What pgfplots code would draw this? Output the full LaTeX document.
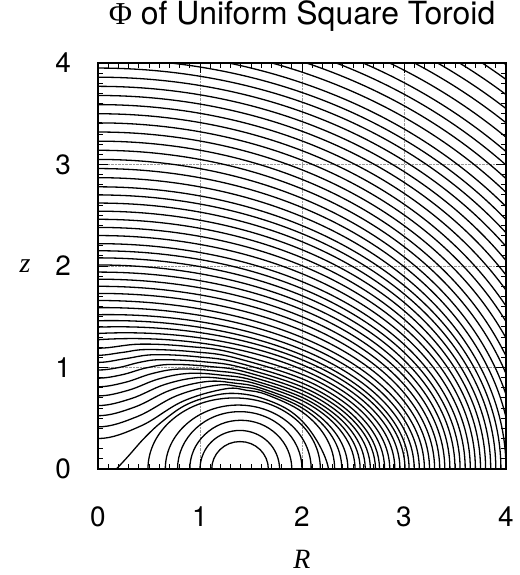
\documentclass[border=0pt]{standalone}
\usepackage{fontspec}
\setmainfont{TeX Gyre Heros}
\newfontfamily\serifit{Liberation Serif}
\usepackage{pgfplots}
\pgfplotsset{compat=1.18}

\newcommand{\tfont}{\fontsize{28}{30}\selectfont}
\newcommand{\titlefont}{\fontsize{32}{34}\selectfont}
\newcommand{\labfont}{\fontsize{28}{30}\selectfont\serifit\itshape}
\tikzset{cl/.style={black, line width=1.3bp, smooth, tension=0.62, mark=none}}

\begin{document}
\begin{tikzpicture}
\useasboundingbox (-98bp,-106bp) rectangle (422bp,469bp);
\begin{axis}[
  scale only axis,
  width=408bp, height=406bp,
  xmin=0, xmax=4, ymin=0, ymax=4,
  xtick={0,1,2,3,4}, ytick={0,1,2,3,4},
  minor tick num=9,
  tick align=inside,
  major tick length=10bp,
  minor tick length=5bp,
  every tick/.style={black, line width=0.9bp},
  axis line style={line width=1.8bp},
  grid=major,
  major grid style={densely dotted, black!40, line width=0.6bp},
  /pgf/number format/assume math mode=true,
  tick label style={font=\tfont, inner sep=0pt},
  xticklabel style={anchor=north, yshift=-38bp},
  yticklabel style={anchor=east, xshift=-27bp},
  title={{\serifit Φ} of Uniform Square Toroid},
  every axis title/.style={at={(axis description cs:0.5,1)}, anchor=base, yshift=38bp, font=\titlefont, inner sep=0pt},
  xlabel={R}, ylabel={z},
  every axis x label/.style={at={(axis description cs:0.5,0)}, anchor=base, yshift=-99bp, font=\labfont, inner sep=0pt},
  every axis y label/.style={at={(axis description cs:0,0.5)}, anchor=center, xshift=-73bp, font=\labfont, inner sep=0pt},
]
% contours around the ring
\addplot[cl] coordinates {(1.136,-0.103) (1.115,0) (1.136,0.103) (1.196,0.191) (1.286,0.250) (1.393,0.27) (1.499,0.250) (1.589,0.191) (1.649,0.103) (1.67,0) (1.649,-0.103)};
\addplot[cl] coordinates {(1.03,-0.146) (1.0,0) (1.03,0.146) (1.114,0.269) (1.241,0.351) (1.39,0.38) (1.539,0.351) (1.666,0.269) (1.75,0.146) (1.78,0) (1.75,-0.146)};
\addplot[cl] coordinates {(0.938,-0.184) (0.90,0) (0.938,0.184) (1.047,0.339) (1.209,0.444) (1.40,0.48) (1.592,0.444) (1.754,0.339) (1.862,0.184) (1.90,0) (1.862,-0.184)};
\addplot[cl] coordinates {(0.826,-0.216) (0.78,0) (0.826,0.216) (0.959,0.400) (1.156,0.522) (1.39,0.565) (1.624,0.522) (1.821,0.400) (1.954,0.216) (2.0,0) (1.954,-0.216)};
\addplot[cl] coordinates {(0.714,-0.241) (0.66,0) (0.714,0.241) (0.870,0.445) (1.101,0.582) (1.375,0.63) (1.649,0.582) (1.881,0.445) (2.036,0.241) (2.09,0) (2.036,-0.241)};
\addplot[cl] coordinates {(0.554,-0.268) (0.49,0) (0.554,0.268) (0.738,0.495) (1.011,0.647) (1.335,0.70) (1.659,0.647) (1.932,0.495) (2.116,0.268) (2.18,0) (2.116,-0.268)};
\addplot[cl] coordinates {(0.08,-0.1) (0.18,0) (0.30,0.13) (0.45,0.30) (0.62,0.46) (0.85,0.625) (1.1,0.715) (1.33,0.745) (1.6,0.70) (1.9,0.56) (2.12,0.32) (2.26,0) (2.21,-0.25)};
% contours crossing the axis with a hump over the ring
\addplot[cl] coordinates {(-0.417,0.4225) (0,0.30) (0.417,0.4225) (0.833,0.6675) (1.25,0.79) (1.459,0.775) (1.660,0.730) (2.006,0.559) (2.239,0.303) (2.32,0) (2.239,-0.303)};
\addplot[cl] coordinates {(-0.387,0.5175) (0,0.415) (0.387,0.5175) (0.773,0.7225) (1.16,0.825) (1.400,0.809) (1.631,0.762) (2.030,0.583) (2.297,0.316) (2.39,0) (2.297,-0.316)};
\addplot[cl] coordinates {(-0.357,0.609) (0,0.525) (0.357,0.609) (0.713,0.778) (1.07,0.862) (1.339,0.846) (1.599,0.796) (2.046,0.609) (2.345,0.330) (2.45,0) (2.345,-0.330)};
\addplot[cl] coordinates {(-0.327,0.694) (0,0.625) (0.327,0.694) (0.653,0.832) (0.98,0.901) (1.280,0.884) (1.570,0.833) (2.069,0.637) (2.403,0.345) (2.52,0) (2.403,-0.345)};
\addplot[cl] coordinates {(-0.297,0.7755) (0,0.72) (0.297,0.7755) (0.593,0.8865) (0.89,0.942) (1.218,0.924) (1.533,0.870) (2.078,0.666) (2.442,0.361) (2.57,0) (2.442,-0.361)};
\addplot[cl] coordinates {(-0.267,0.854) (0,0.81) (0.267,0.854) (0.533,0.941) (0.80,0.985) (1.155,0.966) (1.497,0.910) (2.086,0.696) (2.482,0.377) (2.62,0) (2.482,-0.377)};
\addplot[cl] coordinates {(-0.237,0.929) (0,0.895) (0.237,0.929) (0.473,0.996) (0.71,1.030) (1.092,1.010) (1.461,0.952) (2.096,0.728) (2.521,0.394) (2.67,0) (2.521,-0.394)};
\addplot[cl] coordinates {(-0.207,1.0) (0,0.975) (0.207,1.0) (0.413,1.052) (0.62,1.077) (1.030,1.057) (1.424,0.995) (2.105,0.761) (2.560,0.412) (2.72,0) (2.560,-0.412)};
\addplot[cl] coordinates {(-0.275,1.088) (0,1.05) (0.275,1.088) (0.55,1.126) (0.981,1.105) (1.396,1.040) (2.112,0.796) (2.592,0.431) (2.76,0) (2.592,-0.431)};
\addplot[cl] coordinates {(-0.24,1.1485) (0,1.12) (0.24,1.1485) (0.48,1.177) (0.934,1.155) (1.372,1.088) (2.127,0.832) (2.633,0.451) (2.81,0) (2.633,-0.451)};
\addplot[cl] coordinates {(-0.41,1.23) (0,1.19) (0.41,1.23) (0.888,1.207) (1.348,1.137) (2.142,0.870) (2.674,0.471) (2.86,0) (2.674,-0.471)};
\addplot[cl] coordinates {(-1.477,0.908) (-0.644,1.187) (0.34,1.285) (1.324,1.187) (2.157,0.908) (2.715,0.492) (2.91,0) (2.715,-0.492)};
\addplot[cl] coordinates {(-1.632,0.949) (-0.76,1.240) (0.27,1.342) (1.300,1.240) (2.172,0.949) (2.756,0.514) (2.96,0) (2.756,-0.514)};
\addplot[cl] coordinates {(-1.787,0.991) (-0.876,1.295) (0.2,1.401) (1.276,1.295) (2.187,0.991) (2.796,0.537) (3.01,0) (2.796,-0.537)};
% outer contours
\addplot[cl] coordinates {(-1.934,1.034) (-0.988,1.351) (0.13,1.462) (1.248,1.351) (2.194,1.034) (2.828,0.560) (3.05,0) (2.828,-0.560)};
\addplot[cl] coordinates {(-2.021,1.075) (-1.049,1.405) (0.1,1.521) (1.249,1.405) (2.221,1.075) (2.872,0.583) (3.10,0) (2.872,-0.583)};
\addplot[cl] coordinates {(-2.142,1.124) (-1.137,1.469) (0.05,1.59) (1.237,1.469) (2.242,1.124) (2.914,0.609) (3.15,0) (2.914,-0.609)};
\addplot[cl] coordinates {(-1.226,1.534) (0,1.66) (1.226,1.534) (2.262,1.174) (2.957,0.636) (3.20,0) (2.957,-0.636)};
\addplot[cl] coordinates {(-1.245,1.599) (0,1.73) (1.245,1.599) (2.298,1.223) (3.003,0.663) (3.25,0) (3.003,-0.663)};
\addplot[cl] coordinates {(-1.264,1.663) (0,1.80) (1.264,1.663) (2.333,1.273) (3.049,0.689) (3.30,0) (3.049,-0.689)};
\addplot[cl] coordinates {(-1.283,1.728) (0,1.87) (1.283,1.728) (2.368,1.322) (3.095,0.716) (3.35,0) (3.095,-0.716)};
\addplot[cl] coordinates {(-1.302,1.793) (0,1.94) (1.302,1.793) (2.404,1.372) (3.142,0.743) (3.40,0) (3.142,-0.743)};
\addplot[cl] coordinates {(-1.321,1.857) (0,2.01) (1.321,1.857) (2.439,1.421) (3.188,0.770) (3.45,0) (3.188,-0.770)};
\addplot[cl] coordinates {(-1.341,1.922) (0,2.08) (1.341,1.922) (2.475,1.471) (3.234,0.797) (3.50,0) (3.234,-0.797)};
\addplot[cl] coordinates {(-1.360,1.987) (0,2.15) (1.360,1.987) (2.510,1.520) (3.280,0.823) (3.55,0) (3.280,-0.823)};
\addplot[cl] coordinates {(-1.379,2.051) (0,2.22) (1.379,2.051) (2.545,1.570) (3.326,0.850) (3.60,0) (3.326,-0.850)};
\addplot[cl] coordinates {(-1.398,2.125) (0,2.30) (1.398,2.125) (2.581,1.626) (3.373,0.881) (3.65,0) (3.373,-0.881)};
\addplot[cl] coordinates {(-1.417,2.199) (0,2.38) (1.417,2.199) (2.616,1.683) (3.419,0.912) (3.70,0) (3.419,-0.912)};
\addplot[cl] coordinates {(-1.436,2.273) (0,2.46) (1.436,2.273) (2.651,1.739) (3.465,0.942) (3.75,0) (3.465,-0.942)};
\addplot[cl] coordinates {(-1.455,2.347) (0,2.54) (1.455,2.347) (2.687,1.796) (3.511,0.973) (3.80,0) (3.511,-0.973)};
\addplot[cl] coordinates {(-1.475,2.421) (0,2.62) (1.475,2.421) (2.722,1.852) (3.557,1.003) (3.85,0) (3.557,-1.003)};
\addplot[cl] coordinates {(-1.494,2.495) (0,2.70) (1.494,2.495) (2.757,1.909) (3.604,1.034) (3.90,0) (3.604,-1.034)};
\addplot[cl] coordinates {(-1.513,2.569) (0,2.78) (1.513,2.569) (2.793,1.965) (3.650,1.065) (3.95,0) (3.650,-1.065)};
\addplot[cl] coordinates {(-1.532,2.652) (0,2.87) (1.532,2.652) (2.828,2.029) (3.696,1.099) (4.00,0) (3.696,-1.099)};
\addplot[cl] coordinates {(-1.555,2.735) (0,2.96) (1.555,2.735) (2.870,2.093) (3.751,1.134) (4.06,0) (3.751,-1.134)};
\addplot[cl] coordinates {(-1.578,2.818) (0,3.05) (1.578,2.818) (2.913,2.156) (3.807,1.168) (4.12,0) (3.807,-1.168)};
\addplot[cl] coordinates {(-1.605,2.901) (0,3.14) (1.605,2.901) (2.962,2.220) (3.872,1.203) (4.19,0) (3.872,-1.203)};
\addplot[cl] coordinates {(-1.632,2.985) (0,3.23) (1.632,2.985) (3.012,2.284) (3.936,1.237) (4.26,0) (3.936,-1.237)};
\addplot[cl] coordinates {(-1.662,3.068) (0,3.32) (1.662,3.068) (3.068,2.347) (4.010,1.272) (4.34,0) (4.010,-1.272)};
\addplot[cl] coordinates {(-1.693,3.151) (0,3.41) (1.693,3.151) (3.125,2.411) (4.084,1.306) (4.42,0) (4.084,-1.306)};
\addplot[cl] coordinates {(-1.724,3.234) (0,3.50) (1.724,3.234) (3.182,2.475) (4.158,1.341) (4.50,0) (4.158,-1.341)};
\addplot[cl] coordinates {(-1.758,3.317) (0,3.59) (1.758,3.317) (3.245,2.538) (4.241,1.375) (4.59,0) (4.241,-1.375)};
\addplot[cl] coordinates {(-1.792,3.400) (0,3.68) (1.792,3.400) (3.309,2.602) (4.324,1.409) (4.68,0) (4.324,-1.409)};
\addplot[cl] coordinates {(-1.827,3.483) (0,3.77) (1.827,3.483) (3.372,2.665) (4.407,1.444) (4.77,0) (4.407,-1.444)};
\addplot[cl] coordinates {(-1.861,3.567) (0,3.86) (1.861,3.567) (3.436,2.729) (4.491,1.478) (4.86,0) (4.491,-1.478)};
\addplot[cl] coordinates {(-1.896,3.650) (0,3.95) (1.896,3.650) (3.500,2.793) (4.574,1.513) (4.95,0) (4.574,-1.513)};
\addplot[cl] coordinates {(-1.930,3.733) (0,4.04) (1.930,3.733) (3.563,2.856) (4.657,1.547) (5.04,0) (4.657,-1.547)};
\addplot[cl] coordinates {(-1.965,3.816) (0,4.13) (1.965,3.816) (3.627,2.920) (4.740,1.582) (5.13,0) (4.740,-1.582)};
\addplot[cl] coordinates {(-2.003,3.909) (0,4.23) (2.003,3.909) (3.698,2.991) (4.833,1.620) (5.23,0) (4.833,-1.620)};
\addplot[cl] coordinates {(-2.041,4.001) (0,4.33) (2.041,4.001) (3.768,3.061) (4.925,1.658) (5.33,0) (4.925,-1.658)};
\addplot[cl] coordinates {(-2.080,4.093) (0,4.43) (2.080,4.093) (3.839,3.132) (5.017,1.697) (5.43,0) (5.017,-1.697)};
\addplot[cl] coordinates {(-2.118,4.186) (0,4.53) (2.118,4.186) (3.910,3.203) (5.110,1.735) (5.53,0) (5.110,-1.735)};
\addplot[cl] coordinates {(-2.160,4.287) (0,4.64) (2.160,4.287) (3.987,3.280) (5.211,1.777) (5.64,0) (5.211,-1.777)};
\addplot[cl] coordinates {(-2.202,4.389) (0,4.75) (2.202,4.389) (4.065,3.358) (5.313,1.819) (5.75,0) (5.313,-1.819)};
\addplot[cl] coordinates {(-2.244,4.491) (0,4.86) (2.244,4.491) (4.143,3.436) (5.415,1.861) (5.86,0) (5.415,-1.861)};
\addplot[cl] coordinates {(-2.287,4.592) (0,4.97) (2.287,4.592) (4.221,3.514) (5.516,1.904) (5.97,0) (5.516,-1.904)};
\addplot[cl] coordinates {(-2.332,4.703) (0,5.09) (2.332,4.703) (4.306,3.599) (5.627,1.949) (6.09,0) (5.627,-1.949)};
\addplot[cl] coordinates {(-2.378,4.814) (0,5.21) (2.378,4.814) (4.390,3.683) (5.738,1.995) (6.21,0) (5.738,-1.995)};
\end{axis}
\end{tikzpicture}
\end{document}
